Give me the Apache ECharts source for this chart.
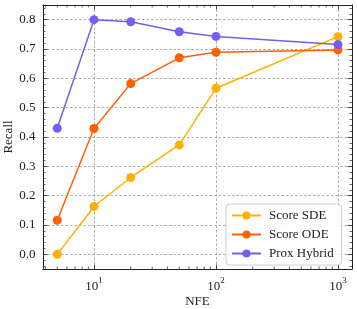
<!DOCTYPE html>
<html>
<head>
<meta charset="utf-8">
<script src="https://cdn.jsdelivr.net/npm/echarts@6/dist/echarts.min.js"></script>
<style>html,body{margin:0;padding:0;background:#fff}#c{width:357px;height:309px}</style>
</head>
<body>
<div id="c"></div>
<script>
var nfe = [5, 10, 20, 50, 100, 1000];
var scoreSDE = [0.0, 0.163, 0.262, 0.373, 0.566, 0.742];
var scoreODE = [0.116, 0.429, 0.582, 0.670, 0.689, 0.697];
var proxHybrid = [0.430, 0.800, 0.793, 0.759, 0.743, 0.715];
var seriesNames = ['Score SDE', 'Score ODE', 'Prox Hybrid'];
var xMinorTicks = [4, 5, 6, 7, 8, 9, 20, 30, 40, 50, 60, 70, 80, 90, 200, 300, 400, 500, 600, 700, 800, 900];
var colors = ['#FFB000', '#FE6100', '#785EF0'];
var FONT = 'Liberation Serif';

function pairs(ys) { return nfe.map(function (x, i) { return [x, ys[i]]; }); }

var chart = echarts.init(document.getElementById('c'), null, {renderer: 'canvas'});
var xMin = 3.82, xMax = 1303, yMin = -0.05, yMax = 0.85;
var tickColor = '#222';
var FS = 13;

function lineSeries(name, ys, color) {
  return {
    name: name, type: 'line', data: pairs(ys),
    symbol: 'circle', symbolSize: 9,
    lineStyle: {color: color, width: 1.5},
    itemStyle: {color: color},
    emphasis: {disabled: true}
  };
}

var option = {
  animation: false,
  textStyle: {fontFamily: FONT},
  grid: {left: 43, right: 5, top: 5, bottom: 40, containLabel: false, outerBoundsMode: 'none'},
  xAxis: [{
    type: 'log', logBase: 10, min: xMin, max: xMax,
    name: 'NFE', nameLocation: 'middle', nameGap: 26, nameMoveOverlap: false,
    nameTextStyle: {fontFamily: FONT, fontSize: FS, color: '#222'},
    axisLine: {show: true, onZero: false, lineStyle: {color: tickColor, width: 1}},
    axisTick: {show: true, inside: true, length: 4.5, lineStyle: {color: tickColor, width: 0.8}},
    axisLabel: {
      showMinLabel: false, showMaxLabel: false, margin: 7,
      formatter: function (v) {
        var e = Math.round(Math.log10(v));
        return '{b|10}{s|' + e + '}';
      },
      rich: {
        b: {fontFamily: FONT, fontSize: FS, color: '#222', lineHeight: 17, verticalAlign: 'bottom'},
        s: {fontFamily: FONT, fontSize: 9, color: '#222', lineHeight: 10, verticalAlign: 'top'}
      }
    },
    splitLine: {show: true, lineStyle: {color: '#999', width: 0.8, type: [2.5, 2]}}
  }, {
    type: 'log', logBase: 10, min: xMin, max: xMax, position: 'top',
    axisLine: {show: true, onZero: false, lineStyle: {color: tickColor, width: 1}},
    axisTick: {show: true, inside: true, length: 4.5, lineStyle: {color: tickColor, width: 0.8}},
    axisLabel: {show: false}, splitLine: {show: false}
  }],
  yAxis: [{
    type: 'value', min: yMin, max: yMax, splitNumber: 9,
    name: 'Recall', nameLocation: 'middle', nameGap: 28, nameRotate: 90, nameMoveOverlap: false,
    nameTextStyle: {fontFamily: FONT, fontSize: FS, color: '#222'},
    axisLine: {show: true, onZero: false, lineStyle: {color: tickColor, width: 1}},
    axisTick: {show: true, inside: true, length: 4.5, lineStyle: {color: tickColor, width: 0.8}},
    minorTick: {show: true, splitNumber: 5, length: 2.5, lineStyle: {color: tickColor, width: 0.7}},
    axisLabel: {
      showMinLabel: false, showMaxLabel: false, margin: 7.5,
      fontFamily: FONT, fontSize: FS, color: '#222',
      formatter: function (v) { return v.toFixed(1); }
    },
    splitLine: {show: true, lineStyle: {color: '#999', width: 0.8, type: [2.5, 2]}}
  }, {
    type: 'value', min: yMin, max: yMax, splitNumber: 9, position: 'right',
    axisLine: {show: true, onZero: false, lineStyle: {color: tickColor, width: 1}},
    axisTick: {show: true, inside: true, length: 4.5, lineStyle: {color: tickColor, width: 0.8}},
    minorTick: {show: true, splitNumber: 5, length: 2.5, lineStyle: {color: tickColor, width: 0.7}},
    axisLabel: {show: false}, splitLine: {show: false}
  }],
  legend: {
    data: seriesNames,
    orient: 'vertical', left: 226, top: 204,
    itemWidth: 29, itemHeight: 10, itemGap: 6,
    padding: [5, 8, 5, 5],
    borderColor: '#ccc', borderWidth: 1, borderRadius: 4,
    backgroundColor: 'rgba(255,255,255,0.9)',
    textStyle: {fontFamily: FONT, fontSize: FS, color: '#222', padding: [0, 0, 0, 3]},
    selectedMode: false
  },
  series: [
    {
      type: 'custom', silent: true, clip: false, z: 1,
      data: xMinorTicks.map(function (v) { return [v, 0]; }),
      renderItem: function (params, api) {
        var cs = params.coordSys;
        var x = api.coord([api.value(0), 0])[0];
        return {
          type: 'group',
          children: [
            {type: 'line', shape: {x1: x, y1: cs.y + cs.height, x2: x, y2: cs.y + cs.height - 2.5}, style: {stroke: tickColor, lineWidth: 0.7}},
            {type: 'line', shape: {x1: x, y1: cs.y, x2: x, y2: cs.y + 2.5}, style: {stroke: tickColor, lineWidth: 0.7}}
          ]
        };
      }
    },
    lineSeries(seriesNames[0], scoreSDE, colors[0]),
    lineSeries(seriesNames[1], scoreODE, colors[1]),
    lineSeries(seriesNames[2], proxHybrid, colors[2])
  ]
};
chart.setOption(option);
</script>
</body>
</html>
